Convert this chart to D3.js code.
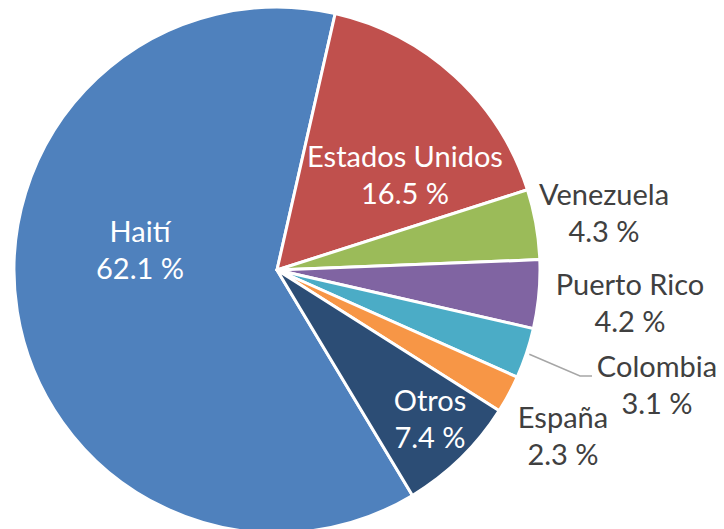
<!DOCTYPE html>
<html>
<head>
<meta charset="utf-8">
<script src="https://cdn.jsdelivr.net/npm/d3@7"></script>
<style>
  body { margin: 0; background: #fff; }
  svg { display: block; }
</style>
</head>
<body>
<div id="chart"></div>
<script>
// Data (percent)
var countries = ["Haití", "Estados Unidos", "Venezuela", "Puerto Rico", "Colombia", "España", "Otros"];
var shares = [62.1, 16.5, 4.3, 4.2, 3.1, 2.3, 7.4];
var sliceColors = ["#4F81BD", "#C0504D", "#9BBB59", "#8064A2", "#4BACC6", "#F79646", "#2C4D75"];

// Label placement (line 1 baseline, relative to the pie centre) and text colour
var labelOffsets = [[-137, -28], [128, -103], [327, -65], [353, 25], [380, 107], [286, 158], [153, 141]];
var labelInside = [true, true, false, false, false, false, true];

var width = 724, height = 529;
var cx = 277, cy = 270, radius = 263;

var svg = d3.select("#chart").append("svg")
  .attr("width", width)
  .attr("height", height);

var g = svg.append("g").attr("transform", `translate(${cx},${cy})`);

var startDeg = 149;
var pie = d3.pie()
  .sort(null)
  .value(d => d.value)
  .startAngle(startDeg * Math.PI / 180)
  .endAngle(startDeg * Math.PI / 180 + 2 * Math.PI);

var data = countries.map((c, i) => ({ name: c, value: shares[i], i: i }));
var arcs = pie(data);

var arc = d3.arc().innerRadius(0).outerRadius(radius);

g.selectAll("path.slice")
  .data(arcs)
  .enter()
  .append("path")
  .attr("class", "slice")
  .attr("d", arc)
  .attr("fill", d => sliceColors[d.data.i])
  .attr("stroke", "#fff")
  .attr("stroke-width", 3)
  .attr("stroke-linejoin", "round");

// Leader line for Colombia
var colArc = arcs[4];
var midA = (colArc.startAngle + colArc.endAngle) / 2;
var edge = [Math.sin(midA) * (radius + 3), -Math.cos(midA) * (radius + 3)];
var colLab = labelOffsets[4];
g.append("polyline")
  .attr("points", [edge, [colLab[0] - 77, colLab[1] - 1], [colLab[0] - 65, colLab[1] - 1]].map(p => p.join(",")).join(" "))
  .attr("fill", "none")
  .attr("stroke", "#A6A6A6")
  .attr("stroke-width", 1.5);

// Labels
var labels = g.selectAll("text.lab")
  .data(arcs)
  .enter()
  .append("text")
  .attr("class", "lab")
  .attr("text-anchor", "middle")
  .attr("font-family", "Lato, 'Open Sans', sans-serif")
  .attr("font-size", 29)
  .attr("fill", d => labelInside[d.data.i] ? "#ffffff" : "#404040");

labels.append("tspan")
  .attr("x", d => labelOffsets[d.data.i][0])
  .attr("y", d => labelOffsets[d.data.i][1])
  .text(d => d.data.name);

labels.append("tspan")
  .attr("x", d => labelOffsets[d.data.i][0])
  .attr("y", d => labelOffsets[d.data.i][1] + 37)
  .text(d => d3.format(".1f")(d.data.value) + " %");
</script>
</body>
</html>
